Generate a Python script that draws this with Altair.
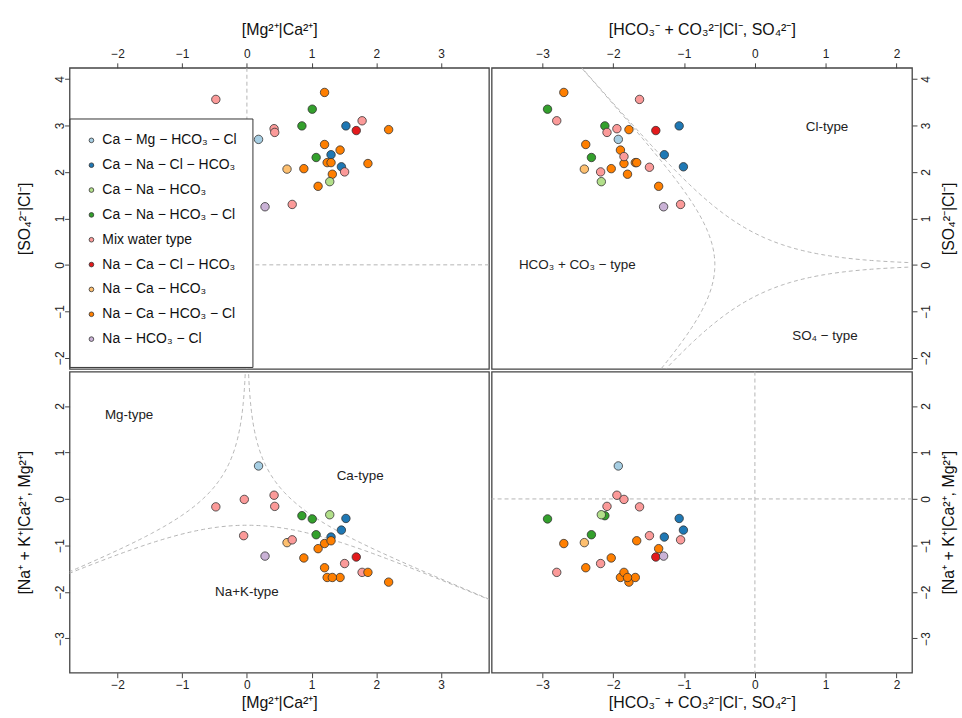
import numpy as np
import pandas as pd
import altair as alt

# ---------------- data ----------------
categories = [
    "Ca − Mg − HCO₃ − Cl",
    "Ca − Na − Cl − HCO₃",
    "Ca − Na − HCO₃",
    "Ca − Na − HCO₃ − Cl",
    "Mix water type",
    "Na − Ca − Cl − HCO₃",
    "Na − Ca − HCO₃",
    "Na − Ca − HCO₃ − Cl",
    "Na − HCO₃ − Cl",
]
palette = ["#a6cee3", "#1f78b4", "#b2df8a", "#33a02c", "#fb9a99",
           "#e31a1c", "#fdbf6f", "#ff7f00", "#cab2d6"]

sample_type = [4, 7, 3, 4, 3, 1, 5, 7, 4, 4,
               0, 7, 7, 1, 3, 7, 7, 7, 1, 6,
               7, 4, 7, 2, 7, 8, 4, 4, 4]
mg_ca = [-0.48, 1.20, 1.01, 1.78, 0.85, 1.53, 1.69, 2.19, 0.42, 0.43,
         0.18, 1.20, 1.44, 1.30, 1.07, 1.24, 1.30, 1.87, 1.46, 0.62,
         0.88, 1.51, 1.32, 1.28, 1.10, 0.28, 0.70, -0.04, -0.05]
so4_cl = [3.56, 3.71, 3.35, 3.10, 2.99, 2.99, 2.89, 2.91, 2.93, 2.85,
          2.70, 2.59, 2.47, 2.37, 2.31, 2.20, 2.20, 2.18, 2.11, 2.06,
          2.07, 2.00, 1.95, 1.79, 1.69, 1.25, 1.30, 2.33, 2.10]
hco3_cl_so4 = [-1.63, -2.70, -2.93, -2.80, -2.12, -1.07, -1.40, -1.78, -1.95, -2.09,
               -1.93, -2.39, -1.90, -1.28, -2.31, -1.69, -1.67, -1.85, -1.01, -2.41,
               -2.03, -2.18, -1.80, -2.17, -1.36, -1.29, -1.05, -1.85, -1.49]
nak_ca_mg = [-0.17, -0.96, -0.43, -1.58, -0.36, -0.42, -1.25, -1.79, 0.08, -0.16,
             0.71, -1.48, -1.69, -0.82, -0.77, -1.69, -0.90, -1.58, -0.67, -0.94,
             -1.27, -1.39, -1.69, -0.34, -1.07, -1.23, -0.88, -0.01, -0.79]

cation_labels = ["Mg-type", "Ca-type", "Na+K-type"]
cation_lx = [-1.82, 1.75, 0.0]
cation_ly = [1.80, 0.50, -2.0]
anion_labels = ["Cl-type", "HCO₃ + CO₃ − type", "SO₄ − type"]
anion_lx = [1.02, -2.51, 0.99]
anion_ly = [2.97, 0.0, -1.54]

ticks_mg = [-2, -1, 0, 1, 2, 3]
ticks_hco3 = [-3, -2, -1, 0, 1, 2]
ticks_so4 = [-2, -1, 0, 1, 2, 3, 4]
ticks_nak = [-3, -2, -1, 0, 1, 2]

dom_mg = [-2.74, 3.74]
dom_hco3 = [-3.72, 2.22]
dom_so4 = [-2.24, 4.24]
dom_nak = [-3.74, 2.74]

t_mg = "[Mg²⁺|Ca²⁺]"
t_hco3 = "[HCO₃⁻ + CO₃²⁻|Cl⁻, SO₄²⁻]"
t_so4 = "[SO₄²⁻|Cl⁻]"
t_nak = "[Na⁺ + K⁺|Ca²⁺, Mg²⁺]"

df = pd.DataFrame({
    "type": [categories[i] for i in sample_type],
    "mgca": mg_ca, "so4cl": so4_cl, "hco3": hco3_cl_so4, "nak": nak_ca_mg,
})

# 50 % dominance boundaries of a three-part composition (balance coordinates)
s = np.linspace(-14, 14, 561)
t = 0.5 / (1 + np.exp(-s))
r = 0.5 / (1 + np.exp(s))
rows = []
for name, (ca, mg, n) in {"A": (0.5, t, r), "B": (t, 0.5, r), "C": (t, r, 0.5)}.items():
    ca = np.broadcast_to(ca, s.shape)
    mg = np.broadcast_to(mg, s.shape)
    n = np.broadcast_to(n, s.shape)
    u = np.log(ca / mg) / np.sqrt(2)
    v = np.sqrt(2 / 3) * np.log(np.sqrt(ca * mg) / n)
    for k in range(len(s)):
        rows.append({"curve": name, "k": k, "u": float(u[k]), "v": float(v[k])})
curves = pd.DataFrame(rows)

cat_df = pd.DataFrame({"lab": cation_labels, "x": cation_lx, "y": cation_ly})
an_df = pd.DataFrame({"lab": anion_labels, "x": anion_lx, "y": anion_ly})
zero_df = pd.DataFrame({"z": [0.0]})

FONT = "Liberation Sans, Arial, sans-serif"
NARROW = "Liberation Sans Narrow, Arial Narrow, Liberation Sans, sans-serif"
WL, WR, H = 422, 423, 303
DASH = dict(color="#b4b4b4", strokeDash=[4, 3], strokeWidth=1)
SW = 1.3

color_scale = alt.Scale(domain=categories, range=palette)


def xaxis(vals, title, orient):
    return alt.Axis(values=vals, title=title, orient=orient, labelPadding=2,
                    format="d", titlePadding=11 if orient == "top" else 4)


def yaxis(vals, title, orient):
    if orient == "left":
        return alt.Axis(values=vals, title=title, orient="left", labelAngle=270,
                        format="d", labelAlign="center", labelBaseline="alphabetic",
                        labelPadding=1, titleAngle=270, titleBaseline="bottom",
                        titlePadding=21)
    return alt.Axis(values=vals, title=title, orient="right", labelAngle=270,
                    format="d", labelAlign="center", labelBaseline="top",
                    labelPadding=4, titleAngle=270, titleBaseline="top",
                    titlePadding=9)


def points(xf, yf, xs, ys, xa, ya, legend=None):
    return alt.Chart(df).mark_circle(size=72, opacity=1, stroke="#333333",
                                     strokeWidth=0.8).encode(
        x=alt.X(f"{xf}:Q", scale=xs, axis=xa),
        y=alt.Y(f"{yf}:Q", scale=ys, axis=ya),
        color=alt.Color("type:N", scale=color_scale, legend=legend),
    )


def text_layer(data, xs, ys):
    return alt.Chart(data).mark_text(font=FONT, fontSize=13.5, color="#222222").encode(
        x=alt.X("x:Q", scale=xs), y=alt.Y("y:Q", scale=ys), text="lab:N")


def curve_layer(xf, yf, xs, ys):
    return alt.Chart(curves).mark_line(clip=True, **DASH).encode(
        x=alt.X(f"{xf}:Q", scale=xs), y=alt.Y(f"{yf}:Q", scale=ys),
        detail="curve:N", order="k:Q")


def zero_rules(xs, ys):
    v = alt.Chart(zero_df).mark_rule(**DASH).encode(x=alt.X("z:Q", scale=xs))
    h = alt.Chart(zero_df).mark_rule(**DASH).encode(y=alt.Y("z:Q", scale=ys))
    return v + h


sx_mg = alt.Scale(domain=dom_mg, nice=False, zero=False)
sx_hc = alt.Scale(domain=dom_hco3, nice=False, zero=False)
sy_so = alt.Scale(domain=dom_so4, nice=False, zero=False)
sy_na = alt.Scale(domain=dom_nak, nice=False, zero=False)

legend = alt.Legend(
    orient="none", legendX=0, legendY=51, title=" ", titleOrient="bottom",
    titleFontSize=4, titlePadding=2,
    fillColor="white", strokeColor="#333333", padding=15, rowPadding=11,
    symbolType="circle", symbolSize=22, symbolStrokeColor="#333333",
    symbolStrokeWidth=0.8, symbolOpacity=1, labelFont=FONT, labelFontSize=14,
    labelColor="#111111", labelOffset=4, labelLimit=400,
)

tl = alt.layer(
    zero_rules(sx_mg, sy_so),
    points("mgca", "so4cl", sx_mg, sy_so,
           xaxis(ticks_mg, t_mg, "top"), yaxis(ticks_so4, t_so4, "left"), legend),
).properties(width=WL, height=H)

tr = alt.layer(
    curve_layer("v", "u", sx_hc, sy_so),
    text_layer(an_df, sx_hc, sy_so),
    points("hco3", "so4cl", sx_hc, sy_so,
           xaxis(ticks_hco3, t_hco3, "top"), yaxis(ticks_so4, t_so4, "right")),
).properties(width=WR, height=H)

bl = alt.layer(
    curve_layer("u", "v", sx_mg, sy_na),
    text_layer(cat_df, sx_mg, sy_na),
    points("mgca", "nak", sx_mg, sy_na,
           xaxis(ticks_mg, t_mg, "bottom"), yaxis(ticks_nak, t_nak, "left")),
).properties(width=WL, height=H)

br = alt.layer(
    zero_rules(sx_hc, sy_na),
    points("hco3", "nak", sx_hc, sy_na,
           xaxis(ticks_hco3, t_hco3, "bottom"), yaxis(ticks_nak, t_nak, "right")),
).properties(width=WR, height=H)

chart = alt.concat(tl, tr, bl, br, columns=2, spacing=-SW).resolve_scale(
    color="independent"
).properties(
    padding={"left": 16, "top": 18, "right": 4, "bottom": 4},
    background="white",
).configure_view(
    stroke="#444444", strokeWidth=SW
).configure_axis(
    grid=False, domain=False, tickColor="#444444", tickSize=5, tickWidth=1,
    labelFont=NARROW, labelFontSize=12, labelColor="#222222",
    titleFont=FONT, titleFontSize=16, titleFontWeight="normal", titleColor="#111111",
)

chart.save("out.html", embed_options={"renderer": "svg", "actions": False})
